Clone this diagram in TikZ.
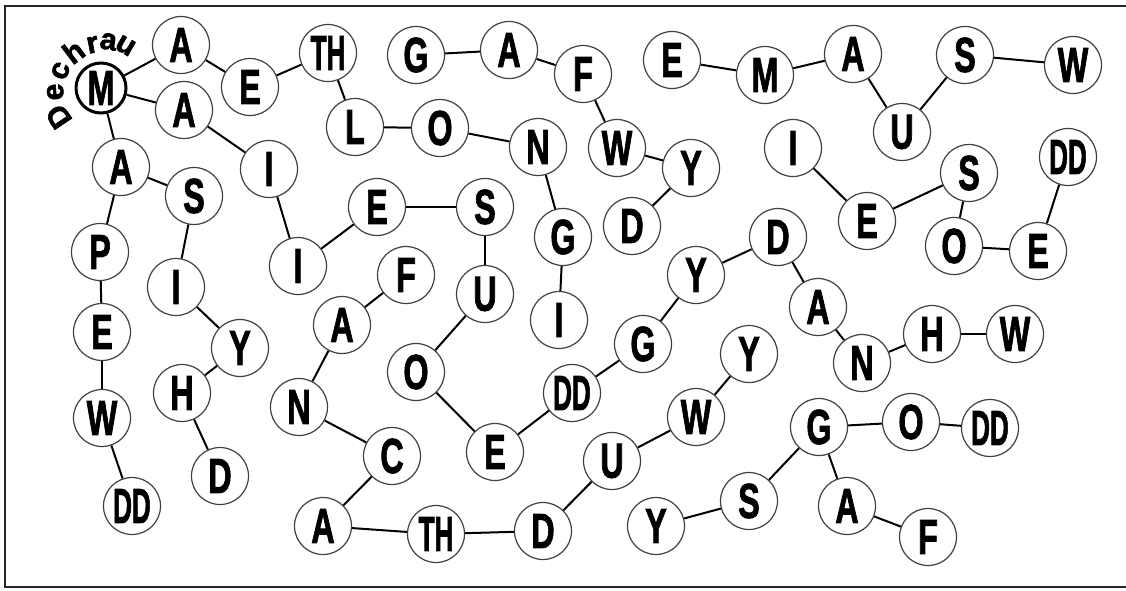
\documentclass[tikz,border=0pt]{standalone}
\usepackage{fontspec}
\usepackage{graphicx}
\newfontfamily\lf{Liberation Sans}[BoldFeatures={FakeBold=2}]
\newcommand\lone[1]{\scalebox{0.66}[1]{#1}}
\newcommand\ltwo[1]{\scalebox{0.53}[1]{#1}}
\newcommand\dfont{\lf\bfseries\fontsize{30}{30}\selectfont}
\begin{document}
\begin{tikzpicture}[x=1pt,y=1pt,
  lt/.style={circle, draw=black!75, line width=1.2pt, minimum size=57pt, inner sep=0pt,
    font=\lf\bfseries\fontsize{49}{49}\selectfont},
  start/.style={lt, draw=black, line width=3pt, minimum size=50pt},
  con/.style={draw=black, line width=2pt},
  arcletter/.style={font=\dfont, anchor=base, inner sep=0pt},
  frame/.style={draw=black!85, line width=2.5pt}]
\useasboundingbox (0,0) rectangle (1126,-590);
\draw[frame] (1126,-6) -- (5,-6) -- (5,-587) -- (1126,-587);
\node[start] (M) at (101,-88) {\lone{M}};
\foreach \n/\t/\x/\y in {
 A1/A/181/45, E1/E/250/87, L/L/355/127, A2/A/184/110, I1/I/269/169,
 A3/A/121/167, S1/S/194/196, P/P/100/252, E7/E/102/332, W5/W/102/418,
 I2/I/298/266, E2/E/377/207, S2/S/485/207, I3/I/176/287, Y1/Y/240/348,
 H1/H/182/393, D1/D/220/476, A4/A/342/325, N1/N/299/407, C/C/392/456,
 A5/A/323/526, D2/D/543/531, U1/U/612/461, W1/W/696/417, Y2/Y/749/354,
 E3/E/495/452, O1/O/416/372, U2/U/485/294, F1/F/406/275, G1/G/643/344,
 Y3/Y/696/275, D3/D/778/237, A6/A/818/307, N2/N/862/363, H2/H/932/334,
 W2/W/1015/334, G2/G/819/427, O2/O/911/422, S3/S/749/501, A7/A/847/506,
 F2/F/928/537, Y4/Y/656/526, I4/I/559/320, G3/G/563/237, N3/N/538/147,
 O3/O/440/128, G4/G/416/55, A8/A/509/50, F3/F/583/74, W3/W/617/148,
 Y5/Y/691/168, D4/D/632/226, E4/E/672/60, M2/M/765/75, A9/A/853/54,
 U3/U/902/132, S4/S/965/55, W4/W/1073/65, I5/I/793/148, E5/E/867/221,
 S5/S/969/173, O4/O/954/246, E6/E/1038/251}
 \node[lt] (\n) at (\x,-\y) {\lone{\t}};
\foreach \n/\t/\x/\y in {
 TH1/TH/328/53, TH2/TH/436/534, DD4/DD/132/506, DD1/DD/572/393,
 DD2/DD/990/428, DD3/DD/1068/157}
 \node[lt] (\n) at (\x,-\y) {\ltwo{\t}};
\foreach \a/\b in {
 M/A1, M/A2, M/A3, A1/E1, E1/TH1, TH1/L, L/O3, O3/N3, N3/G3, G3/I4,
 A2/I1, I1/I2, I2/E2, E2/S2, S2/U2, U2/O1, O1/E3, E3/DD1, DD1/G1, G1/Y3,
 Y3/D3, D3/A6, A6/N2, N2/H2, H2/W2, A3/S1, A3/P, P/E7, E7/W5, W5/DD4,
 S1/I3, I3/Y1, Y1/H1, H1/D1, F1/A4, A4/N1, N1/C, C/A5, A5/TH2, TH2/D2,
 D2/U1, U1/W1, W1/Y2, G4/A8, A8/F3, F3/W3, W3/Y5, Y5/D4, E4/M2, M2/A9,
 A9/U3, U3/S4, S4/W4, I5/E5, E5/S5, S5/O4, O4/E6, E6/DD3, G2/O2, O2/DD2,
 G2/S3, S3/Y4, G2/A7, A7/F2}
 \draw[con] (\a) -- (\b);
\foreach \ch/\ang/\r [count=\i] in {D/214/41, e/185/38, c/157/36, h/127/35, r/101/36, a/81/39, u/60/41}
 \node[arcletter, rotate=\ang-90] (dc\i) at ([shift={(\ang:\r)}]M.center) {\ch};
\end{tikzpicture}
\end{document}
